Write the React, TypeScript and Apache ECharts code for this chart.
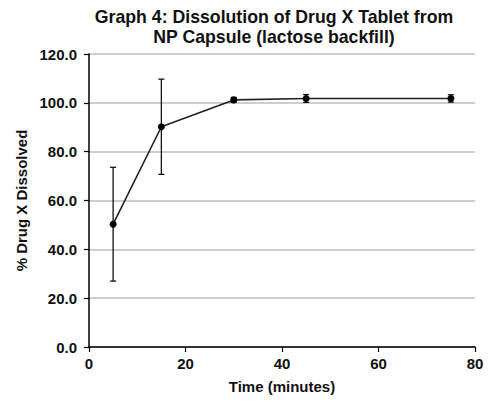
import React, { useEffect, useRef } from "react";
import * as echarts from "echarts";

const timePoints = [5, 15, 30, 45, 75];
const meanDissolved = [50.3, 90.2, 101.2, 101.8, 101.8];
const errorSD = [23.3, 19.5, 1.0, 1.6, 1.5];
const yTicks = { min: 0, max: 120, interval: 20 };
const xTicks = { min: 0, max: 80, interval: 20 };
const titleLines = ["Graph 4: Dissolution of Drug X Tablet from", "NP Capsule (lactose backfill)"];

export default function App() {
  const ref = useRef<HTMLDivElement>(null);
  useEffect(() => {
    document.body.style.margin = "0";
    const chart = echarts.init(ref.current!, null, { renderer: "svg" });
    const font = "Liberation Sans, Arial, sans-serif";
    const lineData = timePoints.map((t, i) => [t, meanDissolved[i]]);
    const errData = timePoints.map((t, i) => [t, meanDissolved[i] - errorSD[i], meanDissolved[i] + errorSD[i]]);
    chart.setOption({
      animation: false,
      backgroundColor: "#ffffff",
      graphic: [
        {
          type: "text",
          x: 274,
          y: 17,
          style: { text: titleLines[0], textAlign: "center", textVerticalAlign: "middle", font: `bold 17.7px ${font}`, fill: "#111" },
        },
        {
          type: "text",
          x: 274,
          y: 37,
          style: { text: titleLines[1], textAlign: "center", textVerticalAlign: "middle", font: `bold 17.7px ${font}`, fill: "#111" },
        },
      ],
      grid: { left: 89, right: 15, top: 54, bottom: 58, containLabel: false },
      xAxis: {
        type: "value",
        min: xTicks.min,
        max: xTicks.max,
        interval: xTicks.interval,
        name: "Time (minutes)",
        nameLocation: "middle",
        nameGap: 32,
        nameTextStyle: { fontFamily: font, fontWeight: "bold", fontSize: 15, color: "#111" },
        axisLine: { show: true, lineStyle: { color: "#000", width: 1.5 } },
        axisTick: { show: true, length: 5, lineStyle: { color: "#000", width: 1.2 } },
        axisLabel: { fontFamily: font, fontWeight: "bold", fontSize: 15, color: "#111", margin: 9 },
        splitLine: { show: false },
      },
      yAxis: {
        type: "value",
        min: yTicks.min,
        max: yTicks.max,
        interval: yTicks.interval,
        name: "% Drug X Dissolved",
        nameLocation: "middle",
        nameGap: 55,
        nameRotate: 90,
        nameTextStyle: { fontFamily: font, fontWeight: "bold", fontSize: 15, color: "#111" },
        axisLine: { show: true, lineStyle: { color: "#000", width: 1.5 } },
        axisTick: { show: true, length: 5, lineStyle: { color: "#000", width: 1.2 } },
        axisLabel: {
          fontFamily: font,
          fontWeight: "bold",
          fontSize: 15,
          color: "#111",
          margin: 12,
          formatter: (v: number) => v.toFixed(1),
        },
        splitLine: { show: true, lineStyle: { color: "#bdbdbd", width: 1.5 } },
      },
      series: [
        {
          type: "custom",
          data: errData,
          z: 3,
          renderItem: (params: any, api: any) => {
            const x = api.value(0);
            const lo = api.coord([x, api.value(1)]);
            const hi = api.coord([x, api.value(2)]);
            const cap = 3;
            const style = { stroke: "#111", lineWidth: 1.3 };
            return {
              type: "group",
              children: [
                { type: "line", shape: { x1: lo[0], y1: lo[1], x2: hi[0], y2: hi[1] }, style },
                { type: "line", shape: { x1: lo[0] - cap, y1: lo[1], x2: lo[0] + cap, y2: lo[1] }, style },
                { type: "line", shape: { x1: hi[0] - cap, y1: hi[1], x2: hi[0] + cap, y2: hi[1] }, style },
              ],
            };
          },
        },
        {
          type: "line",
          data: lineData,
          z: 4,
          symbol: "circle",
          symbolSize: 7,
          lineStyle: { color: "#222", width: 1.6 },
          itemStyle: { color: "#000" },
        },
      ],
    });
    return () => chart.dispose();
  }, []);
  return <div ref={ref} style={{ width: 490, height: 405 }} />;
}
